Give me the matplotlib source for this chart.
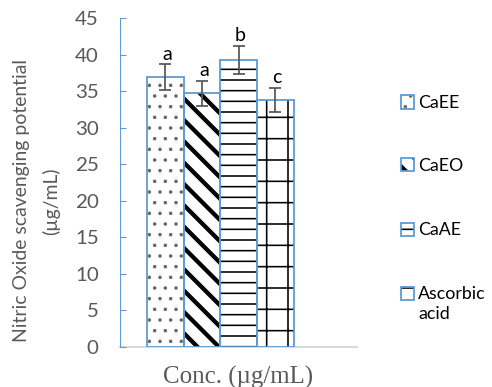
import matplotlib
matplotlib.use('Agg')
import matplotlib.pyplot as plt
from matplotlib.patches import Rectangle
import numpy as np

# nitric oxide scavenging, one concentration group
samples = ['CaEE', 'CaEO', 'CaAE', 'Ascorbic\nacid']
values = [36.9, 34.7, 39.3, 33.8]
errors = [1.8, 1.7, 1.9, 1.65]
letters = ['a', 'a', 'b', 'c']
yticks = [0, 5, 10, 15, 20, 25, 30, 35, 40, 45]

hatches = ['..', '\\\\', '--', '+']
hatch_lw = [0.8, 2.4, 0.9, 0.9]
hatch_col = ['#6a6a6a', 'black', 'black', 'black']
blue = '#5b9bd5'
grey = '#595959'

plt.rcParams['font.family'] = ['Lato', 'DejaVu Sans']

DPI = 128
fig = plt.figure(figsize=(492 / DPI, 387 / DPI), dpi=DPI)
ax = fig.add_axes([120 / 492, 1 - 347 / 387, 237 / 492, 329 / 387])

x = np.arange(len(values))
for i in range(len(values)):
    with plt.rc_context({'hatch.linewidth': hatch_lw[i]}):
        b = ax.bar(x[i], values[i], width=1.0, color='white', edgecolor=hatch_col[i],
                   hatch=hatches[i], linewidth=0, zorder=2)
    for p in b:
        if hasattr(p, 'set_hatch_linewidth'):
            p.set_hatch_linewidth(hatch_lw[i])
    ax.bar(x[i], values[i], width=1.0, fill=False, edgecolor=blue,
           linewidth=1.0, zorder=3)

ax.errorbar(x, values, yerr=errors, fmt='none', ecolor=grey, elinewidth=1.0,
            capsize=3.4, capthick=1.0, zorder=4)
for i in range(len(values)):
    ax.text(x[i] + 0.05, values[i] + errors[i] + 0.6, letters[i], ha='center',
            va='baseline', fontsize=11, color='black')

ax.set_xlim(-1.23, 5.22)
ax.set_ylim(0, 45)
ax.set_yticks(yticks)
ax.set_xticks([])
ax.tick_params(axis='y', direction='in', length=3.5, width=0.6, color=blue,
               labelsize=11.5, labelcolor=grey, pad=12)
for s in ['top', 'right']:
    ax.spines[s].set_visible(False)
ax.spines['left'].set_color(blue)
ax.spines['left'].set_linewidth(0.6)
ax.spines['bottom'].set_color('#d9d9d9')
ax.spines['bottom'].set_linewidth(1.1)
ax.spines['bottom'].set_zorder(1)

fig.text(37 / 492, 1 - 201 / 387, 'Nitric Oxide scavenging potential\n(µg/mL)',
         rotation=90, ha='center', va='center', multialignment='center',
         fontsize=10.9, color=grey, linespacing=1.8)
fig.text(238 / 492, 1 - 377 / 387, 'Conc. (µg/mL)', family='Liberation Serif',
         fontsize=14, color=grey, ha='center', va='center')

# legend drawn by hand so the two-line label hangs below its key
key_y = [102, 165, 229, 293]
for i, lab in enumerate(samples):
    yc = 1 - key_y[i] / 387
    with plt.rc_context({'hatch.linewidth': hatch_lw[i]}):
        r = Rectangle((401 / 492, yc - 6.5 / 387), 13 / 492, 13 / 387,
                      transform=fig.transFigure, facecolor='white',
                      edgecolor=hatch_col[i], hatch=hatches[i], linewidth=0)
    if hasattr(r, 'set_hatch_linewidth'):
        r.set_hatch_linewidth(hatch_lw[i])
    fig.add_artist(r)
    fig.add_artist(Rectangle((401 / 492, yc - 6.5 / 387), 13 / 492, 13 / 387,
                             transform=fig.transFigure, fill=False,
                             edgecolor=blue, linewidth=1.0))
    fig.text(418 / 492, yc + 7 / 387, lab, ha='left', va='top', fontsize=10,
             color='black', linespacing=1.3)

fig.savefig('out.png', dpi=DPI)
